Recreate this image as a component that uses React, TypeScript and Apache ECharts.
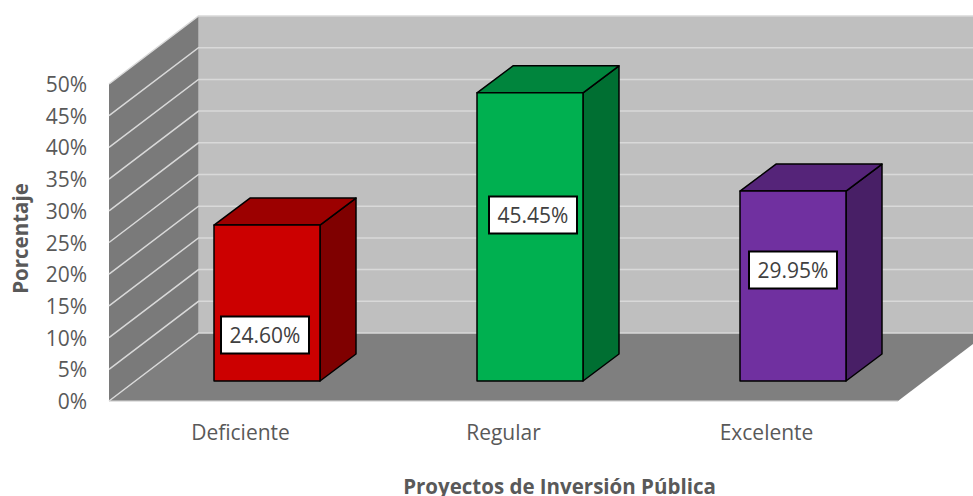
import React, { useEffect, useRef } from "react";
import * as echarts from "echarts";

const categories = ["Deficiente", "Regular", "Excelente"];
const percentages = [24.6, 45.45, 29.95];
const yTicks = [0, 5, 10, 15, 20, 25, 30, 35, 40, 45, 50];
const xAxisTitle = "Proyectos de Inversión Pública";
const yAxisTitle = "Porcentaje";

const frontColors = ["#CC0000", "#00B050", "#7030A0"];
const topColors = ["#9C0000", "#00853D", "#552479"];
const sideColors = ["#7F0000", "#006F32", "#481F66"];

const WALL_DX = 89.5;
const WALL_DY = -68;
const BAR_SHIFT_X = 26.5;
const BAR_SHIFT_Y = -20;
const BAR_DX = 36;
const BAR_DY = -27;
const BAR_WIDTH_RATIO = 0.403;
const LABEL_OFFSETS = [
  [-2, -46],
  [3, -166],
  [0, -111],
];
const FONT = '"Open Sans", sans-serif';

function renderWalls(params: any, api: any) {
  const cs = params.coordSys;
  const left = cs.x;
  const right = cs.x + cs.width;
  const top = cs.y;
  const bottom = cs.y + cs.height;
  return {
    type: "group",
    children: [
      {
        type: "polygon",
        shape: {
          points: [
            [left + WALL_DX, top + WALL_DY],
            [right + WALL_DX, top + WALL_DY],
            [right + WALL_DX, bottom + WALL_DY],
            [left + WALL_DX, bottom + WALL_DY],
          ],
        },
        style: { fill: "#BFBFBF" },
      },
      {
        type: "polygon",
        shape: {
          points: [
            [left, top],
            [left + WALL_DX, top + WALL_DY],
            [left + WALL_DX, bottom + WALL_DY],
            [left, bottom],
          ],
        },
        style: { fill: "#7A7A7A" },
      },
      {
        type: "polygon",
        shape: {
          points: [
            [left, bottom],
            [left + WALL_DX, bottom + WALL_DY],
            [right + WALL_DX, bottom + WALL_DY],
            [right, bottom],
          ],
        },
        style: { fill: "#7F7F7F" },
      },
      {
        type: "line",
        shape: { x1: left, y1: bottom, x2: right, y2: bottom },
        style: { stroke: "#D9D9D9", lineWidth: 1.25 },
      },
    ],
  };
}

function renderGridLine(params: any, api: any) {
  const cs = params.coordSys;
  const left = cs.x;
  const right = cs.x + cs.width;
  const y = api.coord([0, api.value(1)])[1];
  return {
    type: "polyline",
    shape: {
      points: [
        [left, y],
        [left + WALL_DX, y + WALL_DY],
        [right + WALL_DX, y + WALL_DY],
      ],
    },
    style: { stroke: "#D9D9D9", lineWidth: 1.5, fill: "none" },
  };
}

function renderBar(params: any, api: any) {
  const i = params.dataIndex;
  const base = api.coord([api.value(0), 0]);
  const head = api.coord([api.value(0), api.value(1)]);
  const w = api.size([1, 0])[0] * BAR_WIDTH_RATIO;
  const x0 = base[0] + BAR_SHIFT_X - w / 2;
  const x1 = x0 + w;
  const yB = base[1] + BAR_SHIFT_Y;
  const yT = head[1] + BAR_SHIFT_Y;
  const edge = { stroke: "#000000", lineWidth: 1.5, lineJoin: "round" };
  const cx = (x0 + x1) / 2 + LABEL_OFFSETS[i][0];
  const cy = yB + LABEL_OFFSETS[i][1];
  return {
    type: "group",
    children: [
      {
        type: "polygon",
        shape: { points: [[x1, yT], [x1 + BAR_DX, yT + BAR_DY], [x1 + BAR_DX, yB + BAR_DY], [x1, yB]] },
        style: { fill: sideColors[i], ...edge },
      },
      {
        type: "polygon",
        shape: { points: [[x0, yT], [x0 + BAR_DX, yT + BAR_DY], [x1 + BAR_DX, yT + BAR_DY], [x1, yT]] },
        style: { fill: topColors[i], ...edge },
      },
      {
        type: "rect",
        shape: { x: x0, y: yT, width: w, height: yB - yT },
        style: { fill: frontColors[i], ...edge },
      },
      {
        type: "rect",
        shape: { x: cx - 44, y: cy - 18.5, width: 88, height: 37 },
        style: { fill: "#FFFFFF", stroke: "#000000", lineWidth: 2 },
      },
      {
        type: "text",
        x: cx,
        y: cy,
        style: {
          text: api.value(1).toFixed(2) + "%",
          fill: "#404040",
          font: `21px ${FONT}`,
          align: "center",
          verticalAlign: "middle",
        },
      },
    ],
  };
}

export default function App() {
  const ref = useRef<HTMLDivElement>(null);
  useEffect(() => {
    const chart = echarts.init(ref.current!, undefined, { renderer: "svg" });
    chart.setOption({
      animation: false,
      backgroundColor: "#FFFFFF",
      grid: { left: 109, top: 84, width: 789, height: 317, containLabel: false, outerBoundsMode: "none" },
      xAxis: {
        type: "category",
        data: categories,
        axisLine: { show: false },
        axisTick: { show: false },
        axisLabel: { color: "#595959", fontFamily: FONT, fontSize: 21, margin: 20 },
        name: xAxisTitle,
        nameLocation: "middle",
        nameGap: 75,
        nameTextStyle: {
          color: "#595959",
          fontFamily: FONT,
          fontSize: 20.5,
          fontWeight: "bold",
          lineHeight: 20,
          padding: [0, 0, 0, 112],
        },
      },
      yAxis: {
        type: "value",
        min: 0,
        max: 50,
        interval: 5,
        splitLine: { show: false },
        axisLine: { show: false },
        axisTick: { show: false },
        axisLabel: {
          color: "#595959",
          fontFamily: FONT,
          fontSize: 21,
          margin: 22,
          formatter: "{value}%",
        },
        name: yAxisTitle,
        nameLocation: "middle",
        nameGap: 79,
        nameTextStyle: {
          color: "#595959",
          fontFamily: FONT,
          fontSize: 20.5,
          fontWeight: "bold",
          padding: [0, 0, 0, 8],
        },
      },
      series: [
        { type: "custom", z: 1, silent: true, renderItem: renderWalls, data: [[0, 0]], encode: { x: 0, y: 1 } },
        {
          type: "custom",
          z: 2,
          silent: true,
          renderItem: renderGridLine,
          data: yTicks.map((v) => [0, v]),
          encode: { x: 0, y: 1 },
        },
        {
          type: "custom",
          z: 3,
          silent: true,
          renderItem: renderBar,
          data: percentages.map((v, i) => [i, v]),
          encode: { x: 0, y: 1 },
        },
      ],
    });
    return () => chart.dispose();
  }, []);
  return <div ref={ref} style={{ position: "absolute", left: 0, top: 0, width: 973, height: 496 }} />;
}
